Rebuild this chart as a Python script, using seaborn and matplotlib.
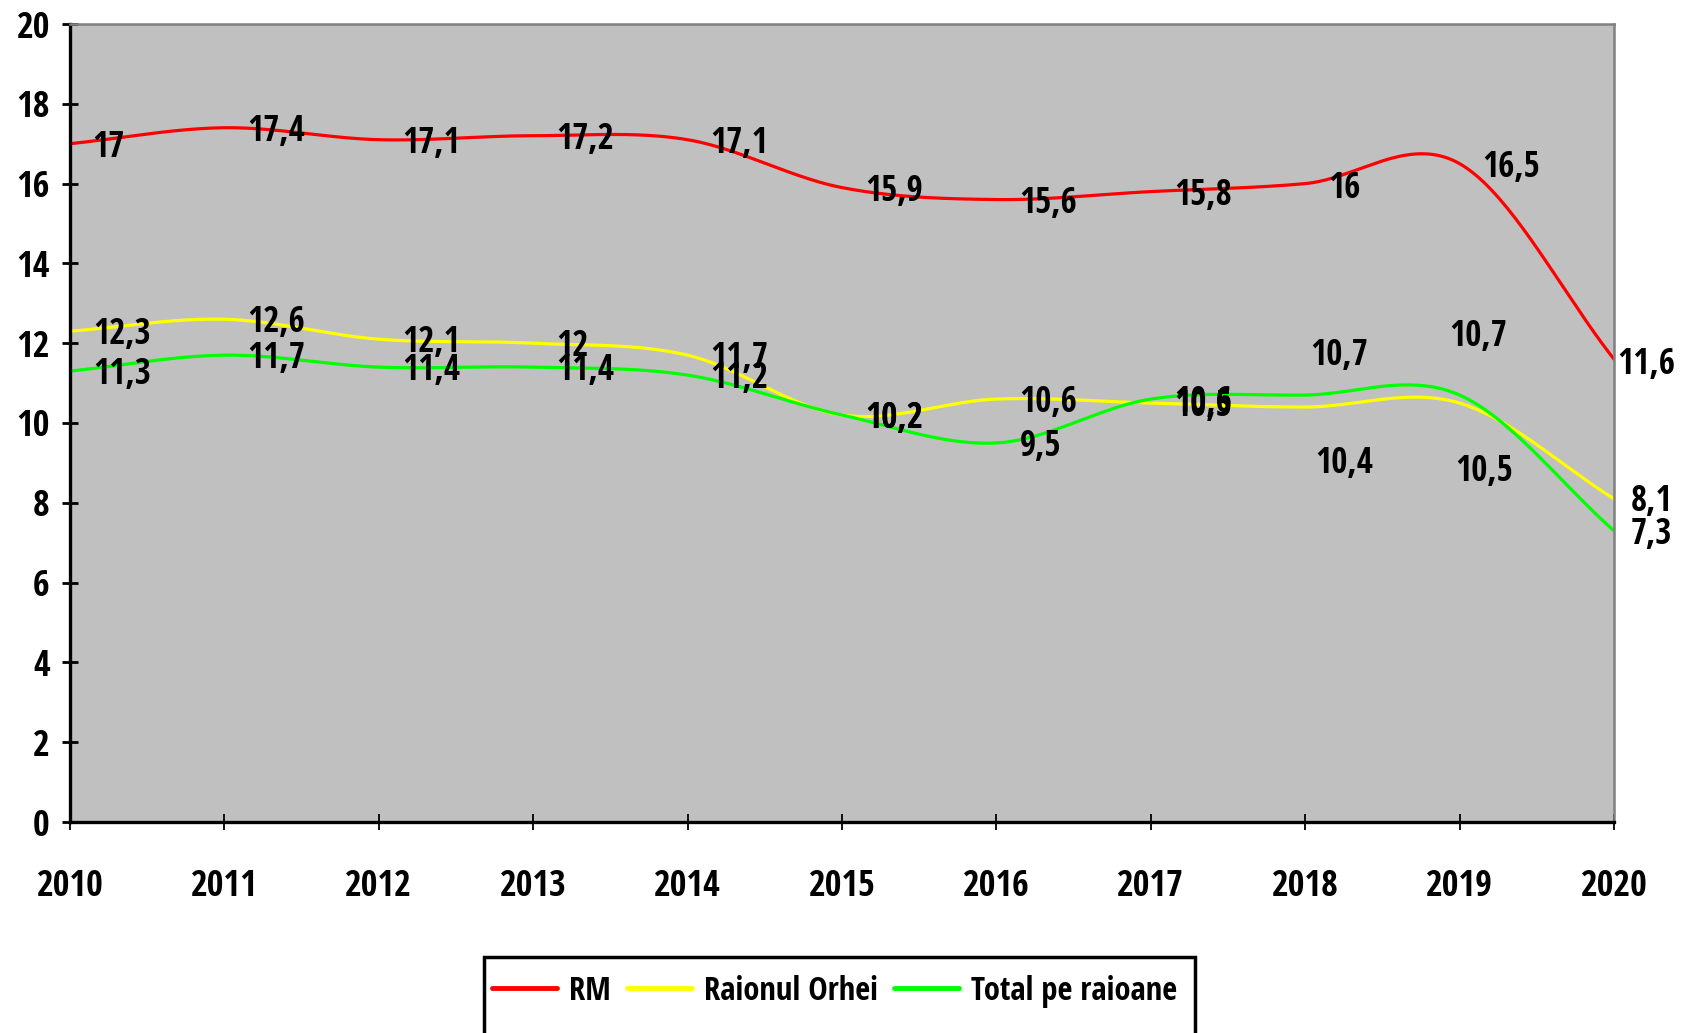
import numpy as np
import pandas as pd
import matplotlib
matplotlib.use("Agg")
import matplotlib.pyplot as plt
from matplotlib.patches import Rectangle
from matplotlib.lines import Line2D
import seaborn as sns

years = [2010, 2011, 2012, 2013, 2014, 2015, 2016, 2017, 2018, 2019, 2020]
rm = [17.0, 17.4, 17.1, 17.2, 17.1, 15.9, 15.6, 15.8, 16.0, 16.5, 11.6]
orhei = [12.3, 12.6, 12.1, 12.0, 11.7, 10.2, 10.6, 10.5, 10.4, 10.5, 8.1]
total = [11.3, 11.7, 11.4, 11.4, 11.2, 10.2, 9.5, 10.6, 10.7, 10.7, 7.3]
series_names = ["RM", "Raionul Orhei", "Total pe raioane"]
colors = ["#FF0000", "#FFFF00", "#00FF00"]
ytick_vals = list(range(0, 21, 2))

sns.set_theme(style="white")
FONT = ["Open Sans Condensed", "IBM Plex Sans Condensed", "DejaVu Sans"]
plt.rcParams["font.family"] = FONT
plt.rcParams["font.weight"] = "bold"
plt.rcParams["text.color"] = "black"
plt.rcParams["xtick.color"] = "black"
plt.rcParams["ytick.color"] = "black"


def smooth(xs, ys, n=40):
    """Excel-like smoothed line (Catmull-Rom) between the read values."""
    xs = np.asarray(xs, float)
    ys = np.asarray(ys, float)
    m = np.zeros_like(ys)
    m[1:-1] = (ys[2:] - ys[:-2]) / 2
    m[0] = (ys[1] - ys[0])
    m[-1] = (ys[-1] - ys[-2])
    ox, oy = [], []
    for i in range(len(xs) - 1):
        t = np.linspace(0, 1, n, endpoint=(i == len(xs) - 2))
        h00 = 2 * t**3 - 3 * t**2 + 1
        h10 = t**3 - 2 * t**2 + t
        h01 = -2 * t**3 + 3 * t**2
        h11 = t**3 - t**2
        oy.append(h00 * ys[i] + h10 * m[i] + h01 * ys[i + 1] + h11 * m[i + 1])
        ox.append(xs[i] + t * (xs[i + 1] - xs[i]))
    return np.concatenate(ox), np.concatenate(oy)


frames = []
for name, vals in zip(series_names, [rm, orhei, total]):
    sx, sy = smooth(years, vals)
    frames.append(pd.DataFrame({"year": sx, "value": sy, "series": name}))
df = pd.concat(frames, ignore_index=True)

fig = plt.figure(figsize=(16.93, 10.33), dpi=100)
ax = fig.add_axes([70 / 1693, 1 - 822 / 1033, (1614 - 70) / 1693, (822 - 24) / 1033])
ax.set_facecolor("#C0C0C0")

sns.lineplot(data=df, x="year", y="value", hue="series", palette=colors,
             hue_order=series_names, linewidth=2.3, ax=ax, legend=False,
             sort=False, estimator=None)

ax.set_xlim(2010, 2020)
ax.set_ylim(0, 20)
ax.set_xticks(years)
ax.set_xticklabels([str(y) for y in years])
ax.set_yticks(ytick_vals)
ax.set_yticklabels([str(v) for v in ytick_vals])
ax.set_xlabel("")
ax.set_ylabel("")

ax.tick_params(axis="y", direction="inout", length=11, width=2, color="black",
               labelsize=26, pad=9, left=True, labelcolor="black")
ax.tick_params(axis="x", direction="inout", length=12, width=1.3, color="black",
               labelsize=26, pad=28, bottom=True, labelcolor="black")
for lab in ax.get_xticklabels() + ax.get_yticklabels():
    lab.set_fontweight("bold")

for s in ["left", "bottom"]:
    ax.spines[s].set_color("black")
    ax.spines[s].set_linewidth(2.4)
for s in ["top", "right"]:
    ax.spines[s].set_color("#808080")
    ax.spines[s].set_linewidth(1.8)

# data labels: default placement to the right of the point
default_off = (23, -4)
special = {
    ("RM", 2010): (22, -4),
    ("RM", 2018): (23, -5),
    ("RM", 2020): (3, -6),
    ("Raionul Orhei", 2018): (10, -57),
    ("Raionul Orhei", 2019): (-4, -69),
    ("Raionul Orhei", 2020): (17, -3),
    ("Total pe raioane", 2018): (5, 39),
    ("Total pe raioane", 2019): (-10, 58),
    ("Total pe raioane", 2020): (17, -4),
}
for name, vals in zip(series_names, [rm, orhei, total]):
    for x, v in zip(years, vals):
        off = special.get((name, x), default_off)
        txt = ("%g" % v).replace(".", ",")
        ax.annotate(txt, (x, v), xytext=off, textcoords="offset pixels",
                    ha="left", va="center", fontsize=25, fontweight="bold",
                    color="black", annotation_clip=False)

# legend
box = Rectangle((484 / 1693, -0.05), (1195 - 484) / 1693, (1 - 957 / 1033) + 0.05,
                transform=fig.transFigure, facecolor="white", edgecolor="black",
                linewidth=2.5, zorder=5)
fig.add_artist(box)
handles = [Line2D([0], [0], color=c, lw=3.5) for c in colors]
leg = fig.legend(handles, series_names, loc="center", ncol=3,
                 bbox_to_anchor=(0.4929, 1 - 991 / 1033), frameon=False,
                 prop={"family": FONT, "weight": "bold", "size": 23.5},
                 handlelength=2.0, handletextpad=0.35, columnspacing=0.5,
                 labelcolor="black")
leg.set_zorder(6)

fig.savefig("out.png", dpi=100)
